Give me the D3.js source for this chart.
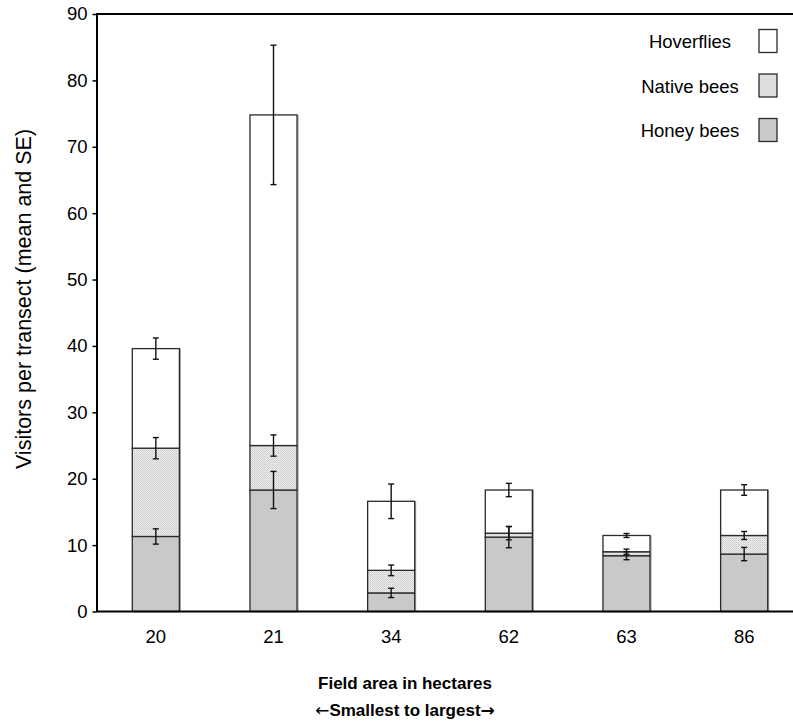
<!DOCTYPE html>
<html>
<head>
<meta charset="utf-8">
<script src="https://cdn.jsdelivr.net/npm/d3@7"></script>
<style>
  body { margin: 0; background: #fff; }
  text { font-family: "Liberation Sans", Arial, sans-serif; }
</style>
</head>
<body>
<svg id="chart" width="793" height="722"></svg>
<script>
// field areas (hectares)
var fields = ["20", "21", "34", "62", "63", "86"];

// segment means, bottom to top
var honeyBees  = [11.3, 18.3, 2.8, 11.2, 8.4, 8.65];
var nativeBees = [13.3, 6.7, 3.4, 0.6, 0.6, 2.8];
var hoverflies = [15.0, 49.8, 10.4, 6.5, 2.45, 6.85];

// standard errors
var honeySE  = [1.15, 2.8, 0.7, 1.6, 0.6, 1.0];
var nativeSE = [1.6, 1.6, 0.8, 1.0, 0.4, 0.6];
var hoverSE  = [1.6, 10.5, 2.6, 1.0, 0.3, 0.8];

var yTicks = [0, 10, 20, 30, 40, 50, 60, 70, 80, 90];

var series = [
    {name: "Honey bees", values: honeyBees, se: honeySE, fill: "#c9c9cb"},
    {name: "Native bees", values: nativeBees, se: nativeSE, fill: "url(#dots)"},
    {name: "Hoverflies", values: hoverflies, se: hoverSE, fill: "#ffffff"}
];

var svg = d3.select("#chart");

// stipple pattern for native bees
var pat = svg.append("defs").append("pattern")
    .attr("id", "dots")
    .attr("width", 2).attr("height", 2)
    .attr("patternUnits", "userSpaceOnUse");
pat.append("rect").attr("width", 2).attr("height", 2).attr("fill", "#ececec");
pat.append("rect").attr("width", 1).attr("height", 1).attr("fill", "#cacaca");
pat.append("rect").attr("x", 1).attr("y", 1).attr("width", 1).attr("height", 1).attr("fill", "#d8d8d8");

var x = d3.scaleBand().domain(fields).range([97, 803]).paddingInner(0.6).paddingOuter(0.3);
var y = d3.scaleLinear().domain([0, 90]).range([611.5, 14]);

// stack
var rows = fields.map((f, i) => {
    var r = {field: f};
    series.forEach(s => r[s.name] = s.values[i]);
    return r;
});
var stacked = d3.stack().keys(series.map(s => s.name))(rows);

// bars
stacked.forEach((layer, k) => {
    var g = svg.append("g");
    g.selectAll("line.shadow")
        .data(layer).enter()
        .append("line")
        .attr("x1", d => x(d.data.field) + x.bandwidth() + 1)
        .attr("x2", d => x(d.data.field) + x.bandwidth() + 1)
        .attr("y1", d => y(d[1]))
        .attr("y2", d => y(d[0]))
        .attr("stroke", "#9a9a9a")
        .attr("stroke-width", 1);
    g.selectAll("rect")
        .data(layer).enter()
        .append("rect")
        .attr("x", d => x(d.data.field))
        .attr("width", x.bandwidth())
        .attr("y", d => y(d[1]))
        .attr("height", d => y(d[0]) - y(d[1]))
        .attr("fill", series[k].fill)
        .attr("stroke", "#2a2a2a")
        .attr("stroke-width", 1.3);
});

// error bars
stacked.forEach((layer, k) => {
    var se = series[k].se;
    var g = svg.append("g").attr("stroke", "#111").attr("stroke-width", 1.4);
    layer.forEach((d, i) => {
        var cx = x(d.data.field) + x.bandwidth() / 2;
        var hi = y(d[1] + se[i]), lo = y(d[1] - se[i]);
        g.append("line").attr("x1", cx).attr("x2", cx).attr("y1", hi).attr("y2", lo);
        g.append("line").attr("x1", cx - 3).attr("x2", cx + 3).attr("y1", hi).attr("y2", hi);
        g.append("line").attr("x1", cx - 3).attr("x2", cx + 3).attr("y1", lo).attr("y2", lo);
    });
});

// axes
var yAxis = svg.append("g")
    .attr("transform", "translate(96.5,0)")
    .call(d3.axisLeft(y).tickValues(yTicks).tickSize(4).tickSizeOuter(0));
yAxis.select(".domain").attr("stroke", "#000").attr("stroke-width", 2);
yAxis.selectAll(".tick line").attr("stroke", "#000").attr("stroke-width", 1.5);
yAxis.selectAll(".tick text").attr("font-size", 18.5).attr("fill", "#000").attr("x", -9);

svg.append("line").attr("x1", 96).attr("x2", 793).attr("y1", y(90)).attr("y2", y(90))
    .attr("stroke", "#000").attr("stroke-width", 2);
svg.append("line").attr("x1", 96).attr("x2", 793).attr("y1", y(0)).attr("y2", y(0))
    .attr("stroke", "#000").attr("stroke-width", 2);

svg.append("g").selectAll("text")
    .data(fields).enter()
    .append("text")
    .attr("x", d => x(d) + x.bandwidth() / 2)
    .attr("y", 643)
    .attr("text-anchor", "middle")
    .attr("font-size", 18.5)
    .attr("fill", "#000")
    .text(d => d);

// titles
svg.append("text")
    .attr("transform", "translate(31,299) rotate(-90)")
    .attr("text-anchor", "middle")
    .attr("font-size", 21.5)
    .attr("fill", "#000")
    .text("Visitors per transect (mean and SE)");

svg.append("text")
    .attr("x", 405).attr("y", 689)
    .attr("text-anchor", "middle")
    .attr("font-size", 17).attr("font-weight", "bold")
    .text("Field area in hectares");
var sub = svg.append("text")
    .attr("x", 405).attr("y", 716)
    .attr("text-anchor", "middle")
    .attr("font-size", 17).attr("font-weight", "bold");
sub.append("tspan").attr("font-family", "DejaVu Sans").attr("font-weight", "normal").text("\u2190");
sub.append("tspan").text("Smallest to largest");
sub.append("tspan").attr("font-family", "DejaVu Sans").text("\u2192");

// legend
var legendItems = series.slice().reverse();
var leg = svg.append("g").selectAll("g")
    .data(legendItems).enter()
    .append("g")
    .attr("transform", (d, i) => "translate(0," + (41 + i * 44.5) + ")");
leg.append("text")
    .attr("x", 690).attr("y", 7)
    .attr("text-anchor", "middle")
    .attr("font-size", 18.5)
    .attr("fill", "#000")
    .text(d => d.name);
leg.append("rect")
    .attr("x", 759).attr("y", -11.5)
    .attr("width", 18).attr("height", 23)
    .attr("fill", d => d.fill)
    .attr("stroke", "#2a2a2a")
    .attr("stroke-width", 1.3);
</script>
</body>
</html>
